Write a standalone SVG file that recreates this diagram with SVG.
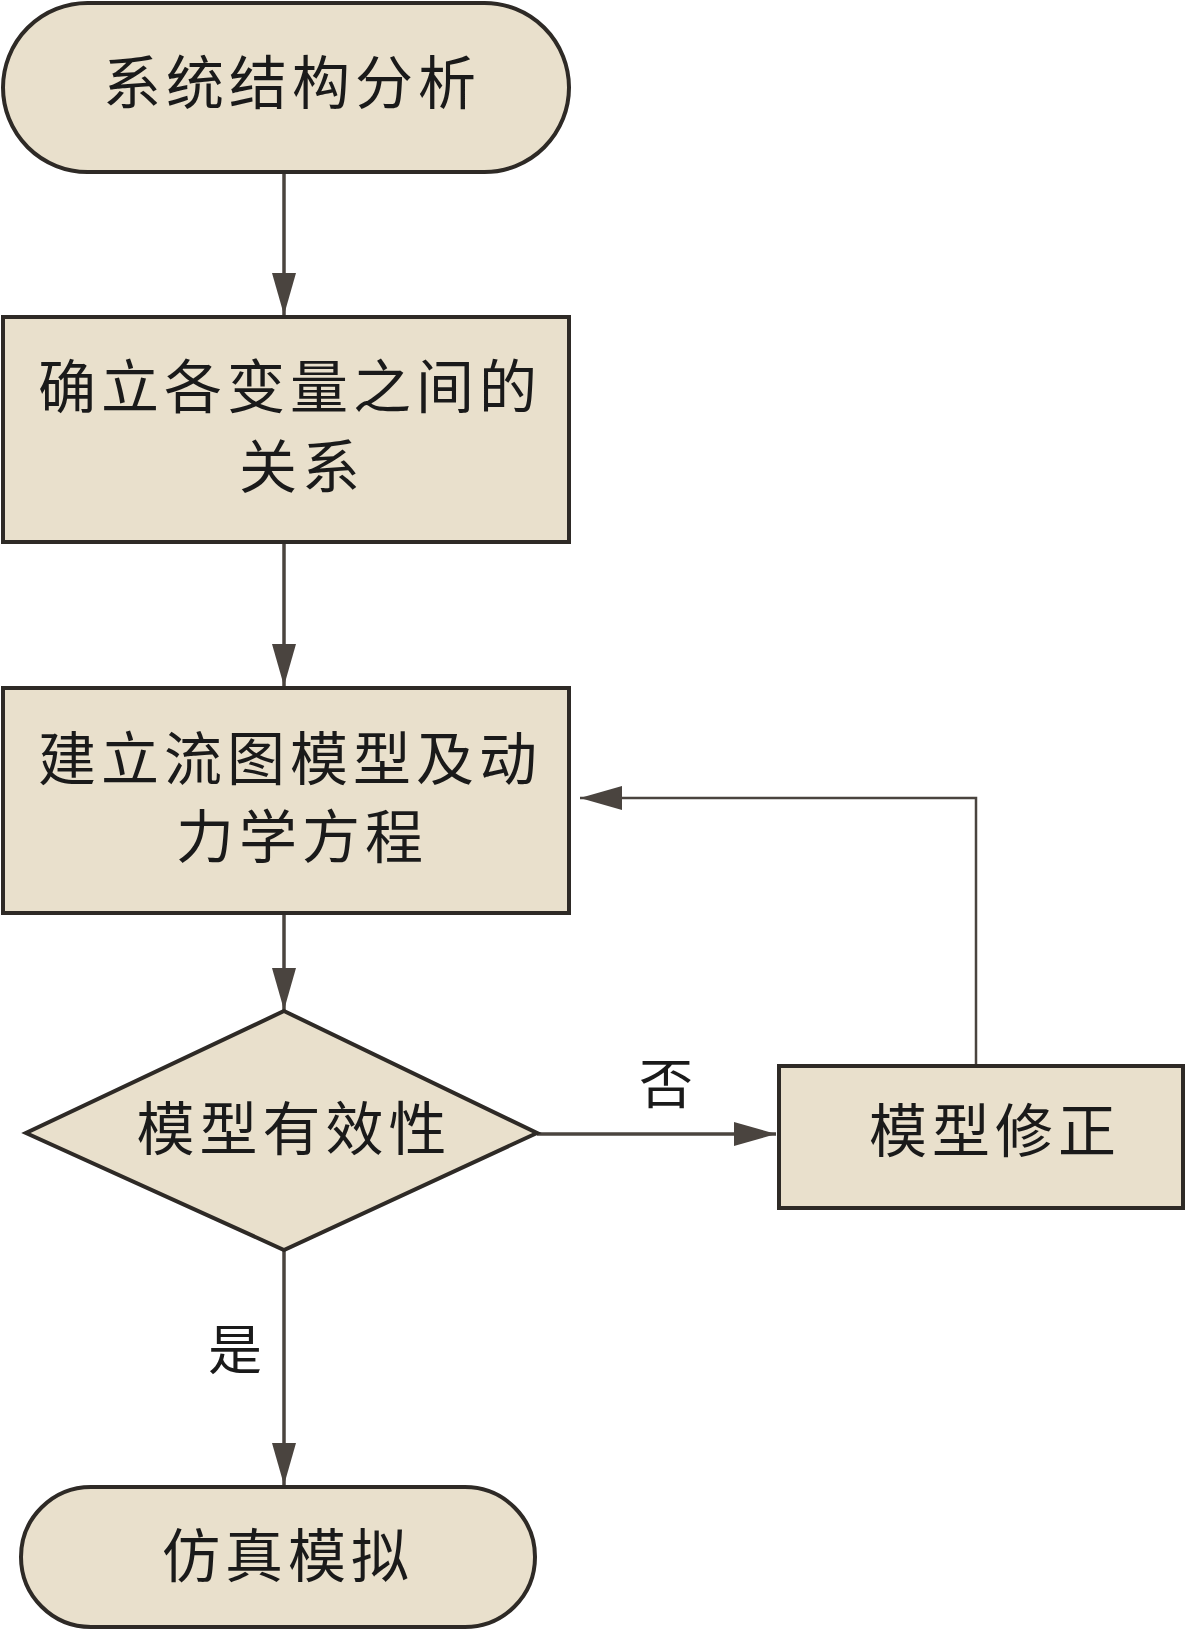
<svg xmlns="http://www.w3.org/2000/svg" width="1185" height="1630" viewBox="0 0 1185 1630">
<style>
.n{fill:#e9e0cc;stroke:#2e2a26;stroke-width:4}
.t{font-family:"Noto Sans CJK SC","Noto Sans CJK TC",sans-serif;font-size:58px;fill:#1a1a1a;text-anchor:middle;letter-spacing:5px}
.l{font-family:"Noto Sans CJK SC",sans-serif;font-size:54px;fill:#1a1a1a;text-anchor:middle}
.c{stroke:#4a443f;stroke-width:3.5;fill:none}
.c2{stroke:#4a443f;stroke-width:2.5;fill:none}
</style>
<defs>
<marker id="ah2" markerUnits="userSpaceOnUse" markerWidth="42" markerHeight="24" viewBox="0 0 42 24" refX="42" refY="12" orient="auto">
<path d="M0,0 L42,12 L0,24 Z" fill="#4a443f"/>
</marker>
</defs>
<g id="connectors">
<line class="c" x1="284" y1="172" x2="284" y2="315" marker-end="url(#ah2)"/>
<line class="c" x1="284" y1="542" x2="284" y2="686" marker-end="url(#ah2)"/>
<line class="c" x1="284" y1="913" x2="284" y2="1010" marker-end="url(#ah2)"/>
<line class="c" x1="537" y1="1134" x2="776" y2="1134" marker-end="url(#ah2)"/>
<polyline class="c2" points="976,1066 976,798 580,798" marker-end="url(#ah2)"/>
<line class="c" x1="284" y1="1250" x2="284" y2="1485" marker-end="url(#ah2)"/>
<text class="l" x="666" y="1104">否</text>
<text class="l" x="235" y="1370">是</text>
</g>
<g id="n1">
<rect class="n" x="3" y="3" width="566" height="169" rx="84.5"/>
<text class="t" x="292" y="104">系统结构分析</text>
</g>
<g id="n2">
<rect class="n" x="3" y="317" width="566" height="225"/>
<text class="t" x="290" y="408">确立各变量之间的</text>
<text class="t" x="302" y="488">关系</text>
</g>
<g id="n3">
<rect class="n" x="3" y="688" width="566" height="225"/>
<text class="t" x="290" y="780">建立流图模型及动</text>
<text class="t" x="302" y="858">力学方程</text>
</g>
<g id="n4">
<polygon class="n" points="284,1011 537,1133 284,1250 26,1133"/>
<text class="t" x="294" y="1150">模型有效性</text>
</g>
<g id="n5">
<rect class="n" x="779" y="1066" width="404" height="142"/>
<text class="t" x="995" y="1152">模型修正</text>
</g>
<g id="n6">
<rect class="n" x="21" y="1487" width="514" height="140" rx="70"/>
<text class="t" x="288" y="1577">仿真模拟</text>
</g>
</svg>
